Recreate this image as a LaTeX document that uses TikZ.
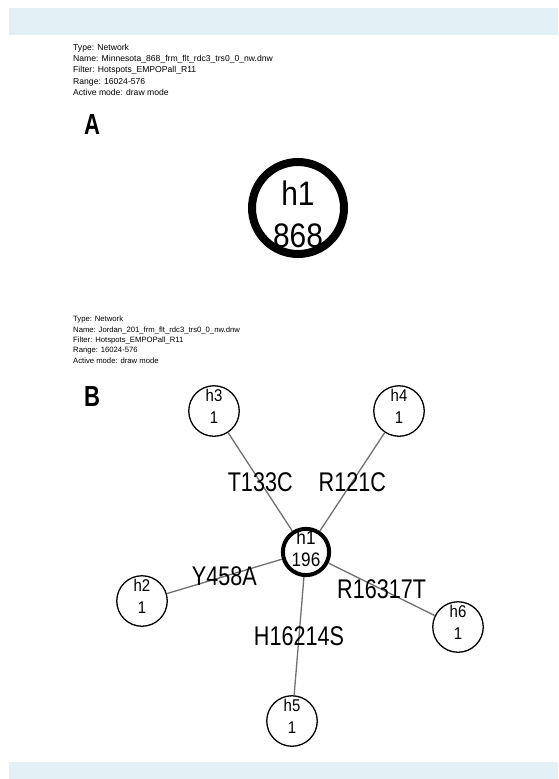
\documentclass[tikz,border=0pt]{standalone}
\usepackage{fontspec}
\setmainfont{Liberation Sans}
\definecolor{bandblue}{RGB}{227,241,246}
\definecolor{edgegray}{RGB}{112,112,112}
\newcommand{\narrow}[2][0.88]{\scalebox{#1}[1]{#2}}
\newcommand{\hapt}[3]{\raisebox{#1}[\height][\depth]{\narrow{#2}}\\
  \raisebox{#1}[\height][\depth]{\narrow{#3}}}
\tikzset{
  hap/.style={circle, draw, fill=white, line width=1.3pt, minimum size=50.5pt,
    inner sep=0pt, align=center, font=\fontsize{17}{22}\selectfont},
  hub/.style={hap, line width=4pt, minimum size=46pt, font=\fontsize{19.5}{22}\selectfont},
  bighub/.style={hap, line width=8pt, minimum size=92pt, font=\fontsize{34}{42}\selectfont},
  mut/.style={inner sep=0pt, font=\fontsize{27}{30}\selectfont},
  info/.style={anchor=north west, inner sep=0pt, align=left, font=\fontsize{7.7}{10.4}\selectfont},
  biginfo/.style={info, font=\fontsize{8.6}{11.2}\selectfont},
  panel/.style={anchor=north west, inner sep=0pt, font=\fontsize{29}{30}\selectfont\bfseries}
}
\begin{document}
\begin{tikzpicture}[x=1pt, y=-1pt]
      \useasboundingbox (0,0) rectangle (558,779);
      \fill[bandblue] (9,8) rectangle (558,35);
      \fill[bandblue] (9,762) rectangle (558,779);
      \draw
        (73,44) node[biginfo] (infoA){Type: Network\\
          Name: Minnesota\_868\_frm\_flt\_rdc3\_trs0\_0\_nw.dnw\\
          Filter: Hotspots\_EMPOPall\_R11\\
          Range: 16024-576\\
          Active mode: draw mode}
        (84,114) node[panel] (panelA){\narrow[0.76]{A}}
        (298,208) node[bighub] (a1){\hapt{-6pt}{h1}{868}}
        (73,316) node[info] (infoB){Type: Network\\
          Name: Jordan\_201\_frm\_flt\_rdc3\_trs0\_0\_nw.dnw\\
          Filter: Hotspots\_EMPOPall\_R11\\
          Range: 16024-576\\
          Active mode: draw mode}
        (84,386) node[panel] (panelB){\narrow[0.76]{B}};
      \draw
        (306,552) node[hub] (h1){\hapt{3pt}{h1}{196}}
        (142,601) node[hap] (h2){\hapt{4.5pt}{h2}{1}}
        (214,411) node[hap] (h3){\hapt{4.5pt}{h3}{1}}
        (399,411) node[hap] (h4){\hapt{4.5pt}{h4}{1}}
        (292,721) node[hap] (h5){\hapt{4.5pt}{h5}{1}}
        (458,627) node[hap] (h6){\hapt{4.5pt}{h6}{1}};
      \begin{scope}[-, draw=edgegray, line width=1.3pt]
        \draw (h1) to node[mut]{\narrow[0.8]{T133C}} (h3);
        \draw (h1) to node[mut]{\narrow[0.8]{R121C}} (h4);
        \draw (h1) to node[mut]{\narrow[0.8]{Y458A}} (h2);
        \draw (h1) to node[mut]{\narrow[0.8]{R16317T}} (h6);
        \draw (h1) to node[mut]{\narrow[0.8]{H16214S}} (h5);
      \end{scope}
    \end{tikzpicture}
\end{document}
